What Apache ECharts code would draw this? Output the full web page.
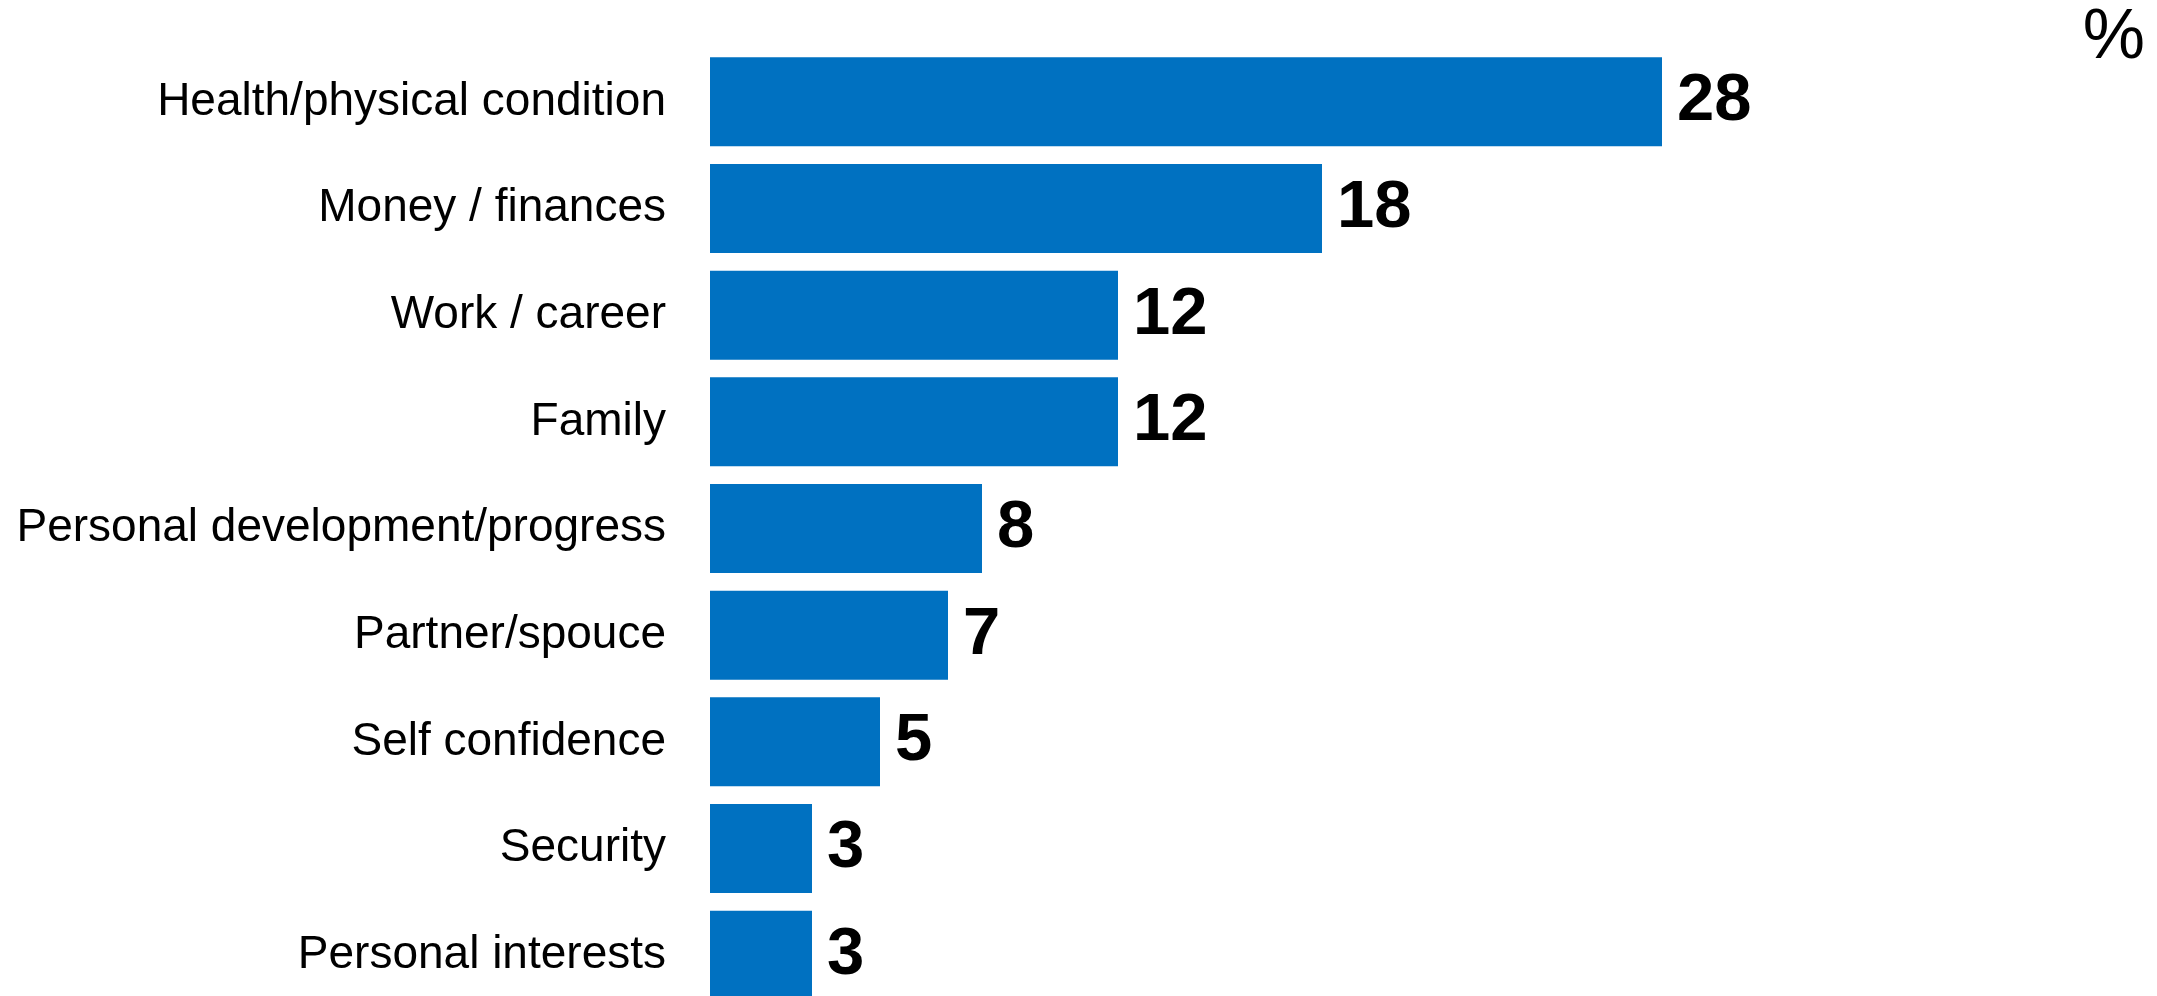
<!DOCTYPE html>
<html>
<head>
<meta charset="utf-8">
<script src="https://cdn.jsdelivr.net/npm/echarts@6/dist/echarts.min.js"></script>
<style>
html,body{margin:0;padding:0;background:#fff;}
#chart{width:2157px;height:996px;}
</style>
</head>
<body>
<div id="chart"></div>
<script>
const categories = [
  "Health/physical condition",
  "Money / finances",
  "Work / career",
  "Family",
  "Personal development/progress",
  "Partner/spouce",
  "Self confidence",
  "Security",
  "Personal interests"
];
const values = [28, 18, 12, 12, 8, 7, 5, 3, 3];
const unitLabel = "%";

const chart = echarts.init(document.getElementById('chart'), null, {renderer: 'canvas'});
chart.setOption({
  animation: false,
  backgroundColor: '#ffffff',
  grid: {left: 710, width: 952, top: 48.5, height: 960, containLabel: false, outerBoundsMode: 'none'},
  xAxis: {
    type: 'value', min: 0, max: 28,
    show: false
  },
  yAxis: {
    type: 'category',
    data: categories,
    inverse: true,
    axisLine: {show: false},
    axisTick: {show: false},
    splitLine: {show: false},
    axisLabel: {
      margin: 44,
      color: '#000',
      fontFamily: 'Liberation Sans, Arial, sans-serif',
      fontSize: 46
    }
  },
  series: [{
    type: 'bar',
    data: values,
    barCategoryGap: '16.5%',
    itemStyle: {color: '#0071C1'},
    label: {
      show: true,
      position: 'right',
      distance: 15,
      color: '#000',
      fontFamily: 'Liberation Sans, Arial, sans-serif',
      fontWeight: 'bold',
      fontSize: 67
    }
  }],
  graphic: [{
    type: 'text',
    right: 12,
    top: 4,
    style: {
      text: unitLabel,
      fill: '#000',
      font: '70px "Liberation Sans", Arial, sans-serif'
    }
  }]
});
</script>
</body>
</html>
